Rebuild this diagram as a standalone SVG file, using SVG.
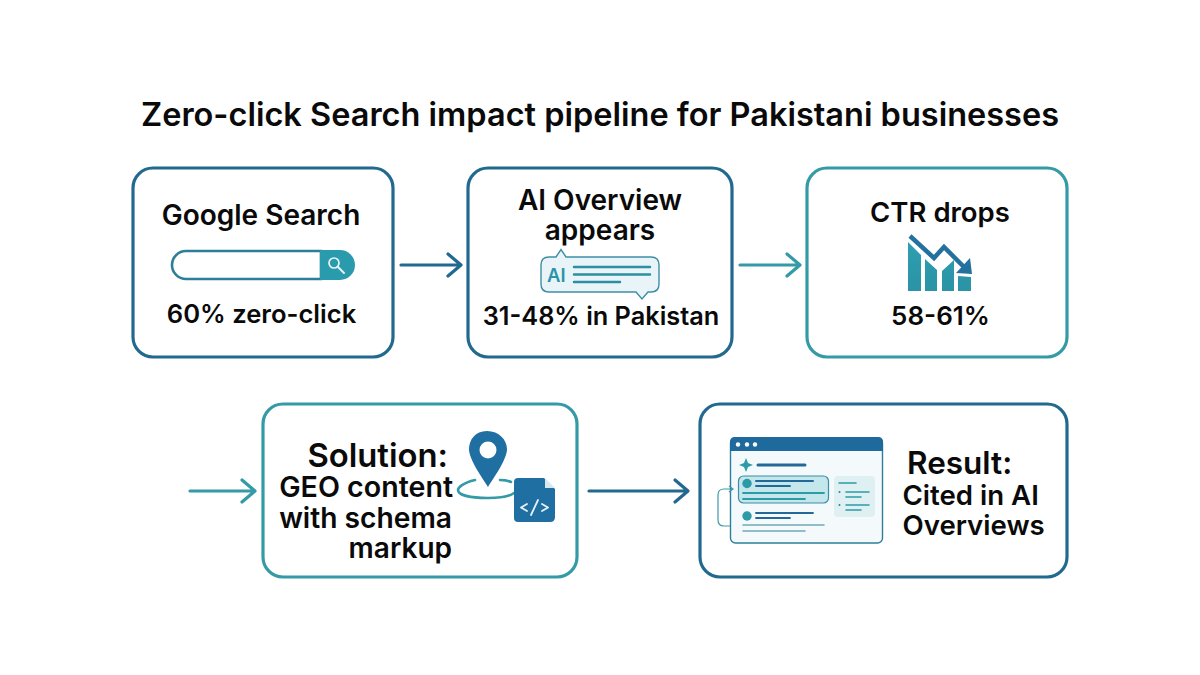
<svg xmlns="http://www.w3.org/2000/svg" width="1200" height="675" viewBox="0 0 1200 675">
<defs>
<linearGradient id="bar" x1="0" y1="0" x2="0" y2="1"><stop offset="0" stop-color="#2d9fb0"/><stop offset="1" stop-color="#2b93a6"/></linearGradient>
</defs>
<style>
text{font-family:Inter,"Liberation Sans",sans-serif;fill:#0a0a0a;font-weight:600}
.box{fill:#fff;stroke-width:3.2}
.blue{stroke:#22698f}.teal{stroke:#349aa6}
.c{fill:none;stroke-width:3.2;stroke-linecap:round;stroke-linejoin:round}
.m{text-anchor:middle}.e{text-anchor:end}
.l{fill:none;stroke-linecap:round}
</style>
<rect width="1200" height="675" fill="#fff"/>
<text id="title" x="600" y="126" class="m" style="font-size:32.5px">Zero-click Search impact pipeline for Pakistani businesses</text>
<g id="connectors">
<path class="c blue" d="M401 265H460M448 254L461 265L448 276"/>
<path class="c teal" d="M740 265H799M787 254L800 265L787 276"/>
<path class="c teal" d="M190 491H254M242 480L255 491L242 502"/>
<path class="c blue" d="M589 491H687M675 480L688 491L675 502"/>
</g>
<g id="node-google">
<rect class="box blue" x="133" y="168" width="260" height="189" rx="20"/>
<text class="m" x="261" y="225" style="font-size:28px">Google Search</text>
<path d="M186 251H321V279H186A14 14 0 0 1 186 251Z" fill="#fff" stroke="#2d7f99" stroke-width="2.6"/>
<path d="M320 250H340A15 15 0 0 1 340 280H320Z" fill="#2a9bad"/>
<circle cx="334" cy="263" r="5" fill="none" stroke="#e6f5f7" stroke-width="1.7"/>
<path d="M338 267L344 273" stroke="#e6f5f7" stroke-width="2" stroke-linecap="round"/>
<text class="m" x="261.500" y="323" style="font-size:25.600px">60% zero-click</text>
</g>
<g id="node-overview">
<rect class="box blue" x="468" y="168" width="264" height="189" rx="20"/>
<text class="m" x="600" y="209.500" style="font-size:28px">AI Overview</text>
<text class="m" x="600" y="239.500" style="font-size:28px">appears</text>
<path d="M549 257H556L561 249.500L566 257H651Q659 257 659 265V284Q659 292 651 292H648L642 299L636 292H549Q541 292 541 284V265Q541 257 549 257Z" fill="#e9f4f8" stroke="#3d8ea6" stroke-width="1.4"/>
<text x="547" y="282" style="font-size:18.500px;fill:#2b94ab">AI</text>
<path class="l" d="M574 267H650M574 274.500H650M574 282H620" stroke="#2b8ea3" stroke-width="2.500"/>
<text class="m" x="601" y="325" style="font-size:25.300px">31-48% in Pakistan</text>
</g>
<g id="node-ctr">
<rect class="box teal" x="807" y="168" width="260" height="189" rx="20"/>
<text class="m" x="940" y="222" style="font-size:27.500px">CTR drops</text>
<path d="M908 242L921 255V291H908ZM925 259L937 270V291H925ZM942 271L954 260V291H942ZM958 276L971 277V291H958Z" fill="url(#bar)"/>
<path d="M910 236L934 258L944 247L964 267" fill="none" stroke="#22719f" stroke-width="4.500"/>
<path d="M972 274L956 273L970 258Z" fill="#22719f"/>
<text class="m" x="940.500" y="325" style="font-size:26px">58-61%</text>
</g>
<g id="node-solution">
<rect class="box teal" x="263" y="404" width="314" height="173" rx="20"/>
<text class="e" x="448" y="467" style="font-size:32.800px">Solution:</text>
<text class="e" x="453" y="497" style="font-size:28.600px">GEO content</text>
<text class="e" x="452" y="528" style="font-size:28.200px">with schema</text>
<text class="e" x="452" y="558" style="font-size:28px">markup</text>
<path d="M487 431C475 431 469 440 469 449C469 459 481 476 488 487C495 476 507 459 507 449C507 440 499 431 487 431Z" fill="#1f6fa3"/>
<circle cx="488" cy="450" r="8.500" fill="#fff"/>
<path class="l" d="M475 480C462 483 458 488 458 490C458 495 470 498 488 498C500 498 510 496 514 493M500 480C505 480 509 481 511 482" stroke="#349aa6" stroke-width="2.600"/>
<path d="M518 478H544L555 489V517Q555 522 550 522H518Q514 522 514 518V482Q514 478 518 478Z" fill="#1f6fa3"/>
<path d="M545 478L555 488H545Z" fill="#d8e8f0"/>
<path class="l" d="M527 504L521 507.500L527 511M542 504L548 507.500L542 511M538 500L531 515" stroke="#e6f2f7" stroke-width="1.800" style="stroke-linejoin:round"/>
</g>
<g id="node-result">
<rect class="box blue" x="700" y="404" width="367" height="173" rx="20"/>
<rect x="730.500" y="438" width="152" height="105" rx="5" fill="#f4fafc" stroke="#2d7f99" stroke-width="1.400"/>
<path d="M735 437H878Q883 437 883 442V451H730V442Q730 437 735 437Z" fill="#1f6a9c"/>
<circle cx="738" cy="444.500" r="2.200" fill="#fff"/><circle cx="747" cy="444.500" r="2.200" fill="#fff"/><circle cx="755" cy="444.500" r="2.200" fill="#fff"/>
<path d="M746 458L748 463L753 465L748 467L746 472L744 467L739 465L744 463Z" fill="#2d9aa8"/>
<path class="l" d="M758 465H805" stroke="#22699a" stroke-width="3"/>
<rect x="738.500" y="476" width="90" height="27" rx="5" fill="#c3e7ea" stroke="#3d8ea6" stroke-width="1.200"/>
<circle cx="747" cy="483.500" r="4.700" fill="#2d9aa8"/>
<path class="l" d="M756 481H813" stroke="#22699a" stroke-width="2"/>
<path class="l" d="M756 486H790" stroke="#22699a" stroke-width="1.800"/>
<path class="l" d="M743 493H824" stroke="#2d9aa8" stroke-width="1.800"/>
<path class="l" d="M743 499H805" stroke="#2d9aa8" stroke-width="1.800"/>
<rect x="834" y="476" width="41" height="41" rx="4" fill="#dff0f2"/>
<path class="l" d="M839 483H856M846 492H869M846 497H861M846 505H869M846 510H861" stroke="#2d9aa8" stroke-width="1.600"/>
<circle cx="839.500" cy="492" r="1" fill="#2d7f99"/><circle cx="839.500" cy="505" r="1" fill="#2d7f99"/>
<circle cx="747" cy="516" r="4.700" fill="#2d9aa8"/>
<path class="l" d="M756 513H813" stroke="#22699a" stroke-width="1.800"/>
<path class="l" d="M756 518H790" stroke="#22699a" stroke-width="1.800"/>
<path class="l" d="M743 525H824M743 531H805" stroke="#6fa9b8" stroke-width="1.600"/>
<path d="M730 526H724Q718 526 718 520V495Q718 489 724 489H732M729 486L733 489L729 492" fill="none" stroke="#3d9aa8" stroke-width="1.200"/>
<text x="907" y="474" style="font-size:31.500px">Result:</text>
<text x="902.500" y="505" style="font-size:27.600px">Cited in AI</text>
<text x="902.500" y="535" style="font-size:27.600px">Overviews</text>
</g>
</svg>
